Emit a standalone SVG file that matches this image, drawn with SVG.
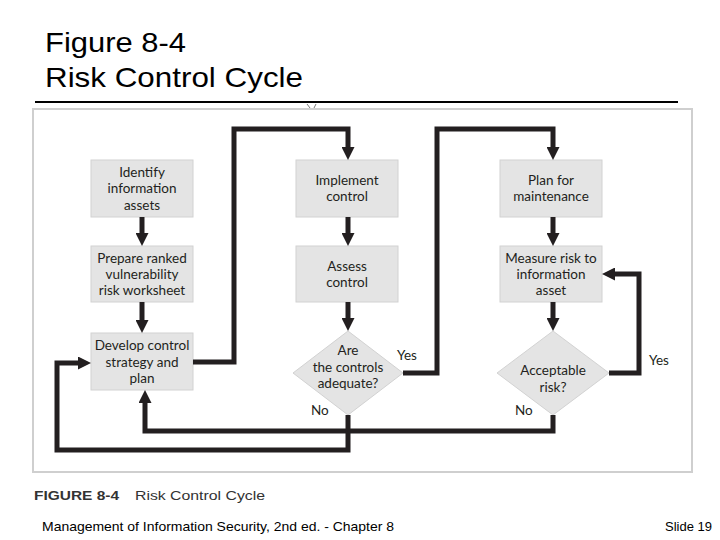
<svg xmlns="http://www.w3.org/2000/svg" width="720" height="540" viewBox="0 0 720 540">
<style>
.title{font-family:"Liberation Sans",Arial,sans-serif;font-size:28px;fill:#000}
.box{fill:#e4e4e4;stroke:#d2d2d2;stroke-width:1}
.t{font-family:Lato,"Open Sans",sans-serif;font-size:13.5px;fill:#231f20;text-anchor:middle}
.lbl{font-family:Lato,"Open Sans",sans-serif;font-size:13.5px;fill:#231f20}
.c{fill:none;stroke:#231f20;stroke-width:5;stroke-linejoin:miter}
.cap{font-family:"Liberation Sans",Arial,sans-serif;font-size:13px;fill:#333}
.foot{font-family:"Liberation Sans",Arial,sans-serif;font-size:13px;fill:#000}
</style>
<defs>
<marker id="ah" markerUnits="userSpaceOnUse" markerWidth="13" markerHeight="13" refX="0" refY="6.5" orient="auto">
<path d="M0,0 L13,6.5 L0,13 z" fill="#231f20"/>
</marker>
</defs>
<rect width="720" height="540" fill="#fff"/>
<text class="title" x="45" y="52" textLength="141" lengthAdjust="spacingAndGlyphs">Figure 8-4</text>
<text class="title" x="45" y="87" textLength="258" lengthAdjust="spacingAndGlyphs">Risk Control Cycle</text>
<line x1="35" y1="102" x2="678" y2="102" stroke="#000" stroke-width="2"/>
<rect x="33" y="109" width="659" height="363" fill="#fff" stroke="#cfcfcf" stroke-width="2"/>
<path d="M307,104 L310,108 M314,108 L316,104" stroke="#555" stroke-width="0.8" fill="none"/>

<g id="n-identify"><rect class="box" x="91" y="160" width="102" height="57"/>
<text class="t" x="142" y="177">Identify</text><text class="t" x="142" y="193">information</text><text class="t" x="142" y="210">assets</text></g>
<g id="n-prepare"><rect class="box" x="91" y="246" width="102" height="56"/>
<text class="t" x="142" y="263">Prepare ranked</text><text class="t" x="142" y="279">vulnerability</text><text class="t" x="142" y="295">risk worksheet</text></g>
<g id="n-develop"><rect class="box" x="91" y="333" width="102" height="57"/>
<text class="t" x="142" y="350">Develop control</text><text class="t" x="142" y="367">strategy and</text><text class="t" x="142" y="383">plan</text></g>
<g id="n-implement"><rect class="box" x="296" y="160" width="102" height="57"/>
<text class="t" x="347" y="185">Implement</text><text class="t" x="347" y="201">control</text></g>
<g id="n-assess"><rect class="box" x="296" y="246" width="102" height="56"/>
<text class="t" x="347" y="271">Assess</text><text class="t" x="347" y="287">control</text></g>
<g id="n-adequate"><polygon class="box" points="348,331 403,373 348,415 293,373"/>
<text class="t" x="348" y="355">Are</text><text class="t" x="348" y="372">the controls</text><text class="t" x="348" y="388">adequate?</text></g>
<g id="n-plan"><rect class="box" x="500" y="160" width="102" height="57"/>
<text class="t" x="551" y="185">Plan for</text><text class="t" x="551" y="201">maintenance</text></g>
<g id="n-measure"><rect class="box" x="500" y="246" width="102" height="56"/>
<text class="t" x="551" y="263">Measure risk to</text><text class="t" x="551" y="279">information</text><text class="t" x="551" y="295">asset</text></g>
<g id="n-acceptable"><polygon class="box" points="553,331 609,373 553,415 497,373"/>
<text class="t" x="553" y="375">Acceptable</text><text class="t" x="553" y="392">risk?</text></g>

<g id="connectors">
<path class="c" d="M142,217 V233" marker-end="url(#ah)"/>
<path class="c" d="M142,302 V320" marker-end="url(#ah)"/>
<path class="c" d="M193,362 H234 V129 H348 V147" marker-end="url(#ah)"/>
<path class="c" d="M348,217 V233" marker-end="url(#ah)"/>
<path class="c" d="M348,302 V318" marker-end="url(#ah)"/>
<path class="c" d="M403,373 H437 V129 H553 V147" marker-end="url(#ah)"/>
<path class="c" d="M553,217 V233" marker-end="url(#ah)"/>
<path class="c" d="M553,302 V318" marker-end="url(#ah)"/>
<path class="c" d="M609,373 H639 V274 H615" marker-end="url(#ah)"/>
<path class="c" d="M553,415 V431 H145 V403" marker-end="url(#ah)"/>
<path class="c" d="M348,415 V450 H57 V363 H78" marker-end="url(#ah)"/>
</g>
<text class="lbl" x="397" y="360">Yes</text>
<text class="lbl" x="311" y="415">No</text>
<text class="lbl" x="649" y="365">Yes</text>
<text class="lbl" x="515" y="415">No</text>

<text class="cap" x="34" y="500" font-weight="bold" textLength="85" lengthAdjust="spacingAndGlyphs">FIGURE 8-4</text>
<text class="cap" x="135" y="500" textLength="130" lengthAdjust="spacingAndGlyphs">Risk Control Cycle</text>
<text class="foot" x="42" y="531" textLength="352" lengthAdjust="spacingAndGlyphs">Management of Information Security, 2nd ed. - Chapter 8</text>
<text class="foot" x="712" y="531" text-anchor="end">Slide 19</text>
</svg>
